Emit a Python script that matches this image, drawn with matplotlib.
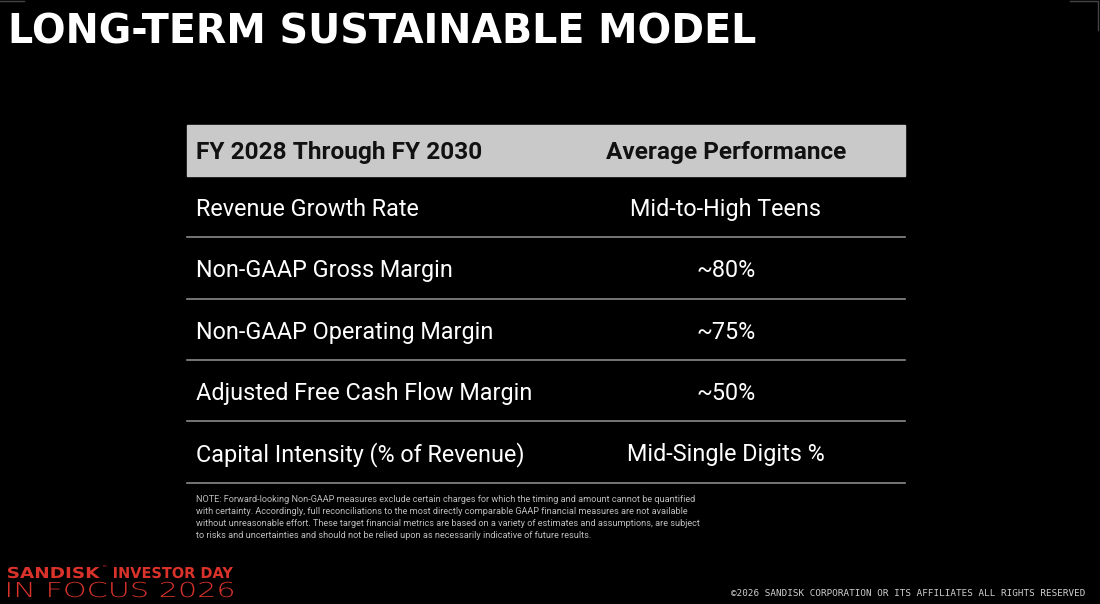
import matplotlib
matplotlib.use("Agg")
import matplotlib.pyplot as plt
from matplotlib.patches import Rectangle, PathPatch
from matplotlib.textpath import TextPath
from matplotlib.font_manager import FontProperties
from matplotlib.transforms import Affine2D

title = "LONG-TERM SUSTAINABLE MODEL"
header = ["FY 2028 Through FY 2030", "Average Performance"]
metrics = ["Revenue Growth Rate", "Non-GAAP Gross Margin", "Non-GAAP Operating Margin",
           "Adjusted Free Cash Flow Margin", "Capital Intensity (% of Revenue)"]
targets = ["Mid-to-High Teens", "~80%", "~75%", "~50%", "Mid-Single Digits %"]
note_lines = [
    "NOTE: Forward-looking Non-GAAP measures exclude certain charges for which the timing and amount cannot be quantified",
    "with certainty. Accordingly, full reconciliations to the most directly comparable GAAP financial measures are not available",
    "without unreasonable effort. These target financial metrics are based on a variety of estimates and assumptions, are subject",
    "to risks and uncertainties and should not be relied upon as necessarily indicative of future results.",
]
copyright_txt = "\u00a92026 SANDISK CORPORATION OR ITS AFFILIATES ALL RIGHTS RESERVED"

W, H = 1100, 604
red = "#d8322a"
fig = plt.figure(figsize=(W / 100, H / 100), dpi=100, facecolor="black")
ax = fig.add_axes([0, 0, 1, 1])
ax.set_xlim(0, W)
ax.set_ylim(H, 0)
ax.axis("off")
ax.set_facecolor("black")


def wide_text(x, y, s, width, cap, weight, color):
    # text als pfad, in x auf breite gestreckt (y-achse zeigt nach unten)
    tp = TextPath((0, 0), s, size=10, prop=FontProperties(family="DejaVu Sans", weight=weight))
    ext = tp.get_extents()
    sx = width / ext.width
    sy = cap / 7.3
    tr = Affine2D().translate(-ext.x0, 0).scale(sx, -sy).translate(x, y)
    ax.add_patch(PathPatch(tr.transform_path(tp), facecolor=color, edgecolor="none"))


# titel
ax.text(8, 43, title, color="white", fontsize=28.5, fontweight="bold",
        family="DejaVu Sans", va="baseline", ha="left")

# tabelle
x0, x1 = 187, 905
left_x, right_x = 196, 726
ax.add_patch(Rectangle((x0, 125), x1 - x0, 51, color="#c9c9c9", zorder=1))
ax.text(left_x, 159, header[0], color="#111111", fontsize=17.6, fontweight="bold",
        family="Roboto", va="baseline", ha="left", zorder=2)
ax.text(right_x, 159, header[1], color="#111111", fontsize=17.6, fontweight="bold",
        family="Roboto", va="baseline", ha="center", zorder=2)

row_top = 176
row_h = 61.3
for i in range(len(metrics)):
    yb = row_top + row_h * i + 40
    ax.text(left_x, yb, metrics[i], color="white", fontsize=16.8, family="Roboto",
            va="baseline", ha="left")
    ax.text(right_x, yb, targets[i], color="white", fontsize=16.8, family="Roboto",
            va="baseline", ha="center")
    yl = row_top + row_h * (i + 1)
    ax.plot([x0, x1], [yl, yl], color="#8a8a8a", lw=1.2)

# fussnote
for i, line in enumerate(note_lines):
    ax.text(196, 500 + i * 11.7, line, color="#bdbdbd", fontsize=6.6, family="Roboto",
            va="center", ha="left")

# logo unten links
wide_text(8, 578, "SANDISK", 92, 11, "bold", red)
ax.text(101, 570, "\u2122", color=red, fontsize=4, family="DejaVu Sans",
        va="baseline", ha="left")
wide_text(114, 578, "INVESTOR DAY", 119, 11, "bold", red)
wide_text(8, 597, "IN FOCUS 2026", 225, 15, "light", red)

ax.text(1085, 593, copyright_txt, color="#cfcfcf", fontsize=6.7, family="DejaVu Sans Mono",
        va="center", ha="right")

# rahmenreste oben
ax.plot([0, 24], [1, 1], color="#444444", lw=1)
ax.plot([1070, 1098, 1098], [1, 1, 30], color="#444444", lw=1)

fig.savefig("out.png", dpi=100, facecolor="black")
